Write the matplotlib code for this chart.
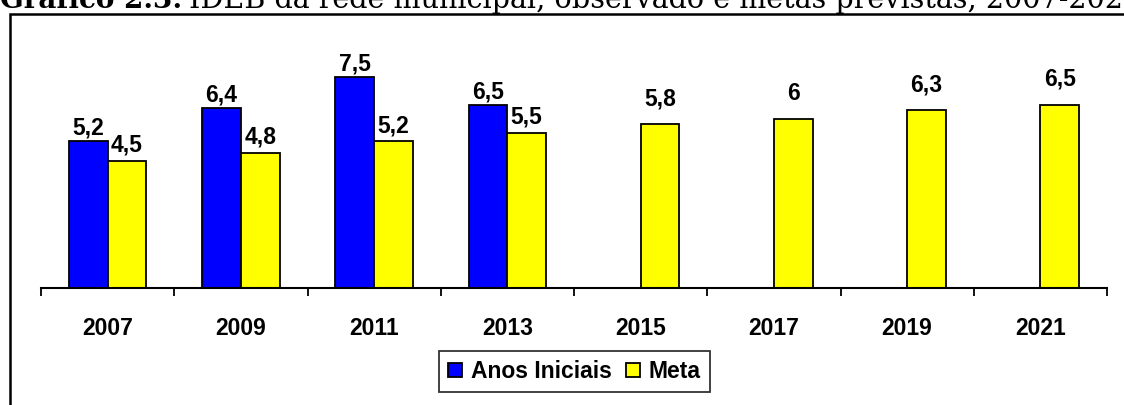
import numpy as np
import matplotlib.pyplot as plt
from matplotlib.patches import Rectangle

years = ['2007', '2009', '2011', '2013', '2015', '2017', '2019', '2021']
anos_iniciais = [5.2, 6.4, 7.5, 6.5, None, None, None, None]
meta = [4.5, 4.8, 5.2, 5.5, 5.8, 6.0, 6.3, 6.5]

W, H = 1124, 405
fig = plt.figure(figsize=(W / 100, H / 100), dpi=100)

# plot area in pixels
ax = fig.add_axes([41 / W, 1 - 288 / H, (1107 - 41) / W, (288 - 62.4) / H])

x = np.arange(len(years))
bw = 0.29
blue_vals = [v if v is not None else 0 for v in anos_iniciais]
b1 = ax.bar(x - bw / 2, blue_vals, bw, color='#0000FF', edgecolor='black', linewidth=1.3,
            label='Anos Iniciais')
b2 = ax.bar(x + bw / 2, meta, bw, color='#FFFF00', edgecolor='black', linewidth=1.3,
            label='Meta')
for rect, v in zip(b1, anos_iniciais):
    if v is None:
        rect.set_visible(False)

lab = dict(fontsize=16.5, fontweight='bold', family='Liberation Sans', ha='center', va='bottom')
for rect, v in zip(b1, anos_iniciais):
    if v is not None:
        ax.annotate(f'{v:g}'.replace('.', ','), (rect.get_x() + rect.get_width() / 2, v),
                    xytext=(0, 1), textcoords='offset points', **lab)
for rect, v, b in zip(b2, meta, anos_iniciais):
    pad = 3 if b is not None else 10
    ax.annotate(f'{v:g}'.replace('.', ','), (rect.get_x() + rect.get_width() / 2, v),
                xytext=(0, pad), textcoords='offset points', **lab)

ax.set_xlim(-0.5, len(years) - 0.5)
ax.set_ylim(0, 8)
for s in ['left', 'right', 'top']:
    ax.spines[s].set_visible(False)
ax.spines['bottom'].set_linewidth(1.5)
ax.set_yticks([])
ax.set_xticks(x)
ax.set_xticklabels(years, fontsize=16.5, fontweight='bold', family='Liberation Sans')
ax.tick_params(axis='x', which='major', length=0, pad=21)
ax.set_xticks(np.arange(-0.5, len(years)), minor=True)
ax.tick_params(axis='x', which='minor', length=6, width=1.3, direction='out')

leg = fig.legend(handles=[b1, b2], loc='center', bbox_to_anchor=(574.5 / W, 1 - 371.5 / H),
                 ncol=2, frameon=True, fancybox=False, handlelength=0.6, handleheight=0.6,
                 handletextpad=0.4, columnspacing=0.6, borderpad=0.4, borderaxespad=0,
                 prop={'family': 'Liberation Sans', 'weight': 'bold', 'size': 16.5})
leg.get_frame().set_edgecolor('black')
leg.get_frame().set_linewidth(1.3)

# outer frame (right and bottom edges fall outside the image)
fig.patches.append(Rectangle((9.5 / W, -0.2), 1.2, 1.2 - 13.5 / H, transform=fig.transFigure,
                             fill=False, edgecolor='black', linewidth=1.8))

# title, clipped at the top edge like in the reference
t1 = fig.text(0.0, 1 - 8 / H, 'Gráfico 2.3:', family='DejaVu Serif', fontweight='bold',
              fontsize=20, va='baseline', ha='left')
r = fig.canvas.get_renderer()
bb = t1.get_window_extent(r)
fig.text(bb.x1 / W + 7 / W, 1 - 8 / H, 'IDEB da rede municipal, observado e metas previstas, 2007-2021',
         family='DejaVu Serif', fontsize=20.6, va='baseline', ha='left')

fig.savefig('out.png', dpi=100)
